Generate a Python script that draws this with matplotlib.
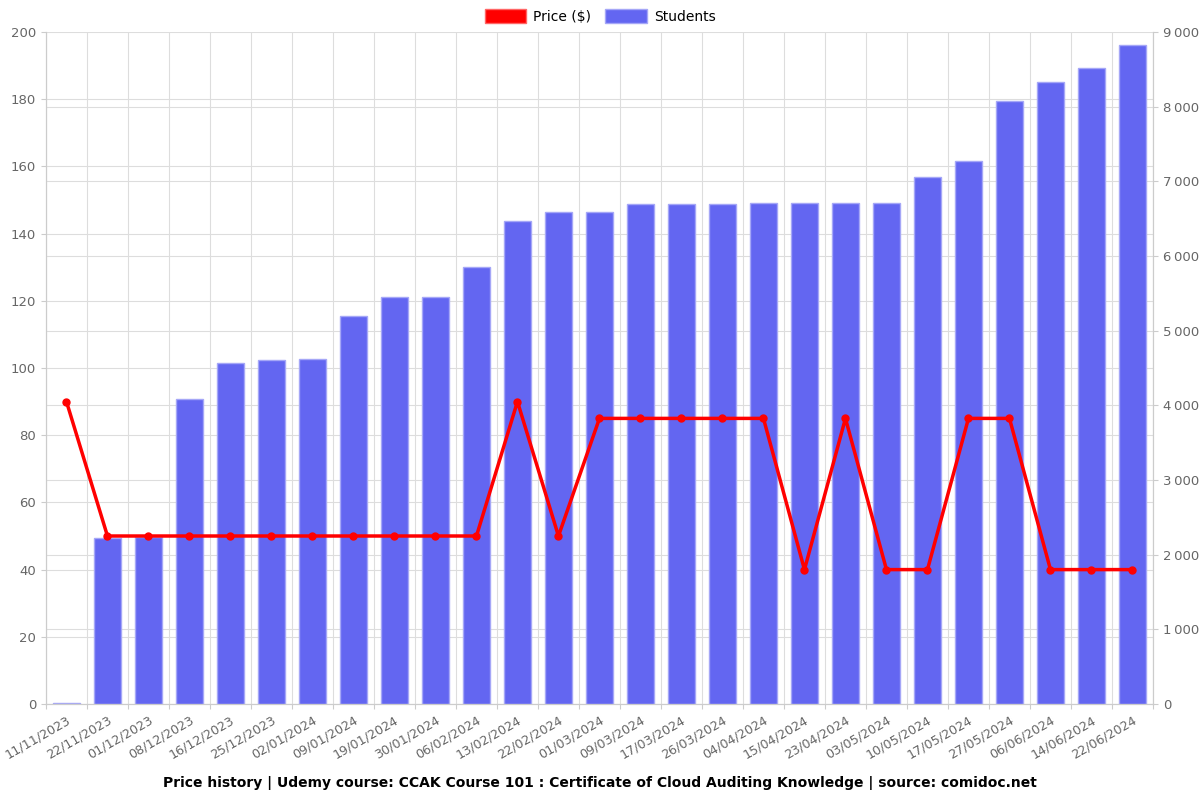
import matplotlib.pyplot as plt
from matplotlib.patches import Patch
from matplotlib.ticker import FuncFormatter, MultipleLocator

dates = ['11/11/2023', '22/11/2023', '01/12/2023', '08/12/2023', '16/12/2023',
         '25/12/2023', '02/01/2024', '09/01/2024', '19/01/2024', '30/01/2024',
         '06/02/2024', '13/02/2024', '22/02/2024', '01/03/2024', '09/03/2024',
         '17/03/2024', '26/03/2024', '04/04/2024', '15/04/2024', '23/04/2024',
         '03/05/2024', '10/05/2024', '17/05/2024', '27/05/2024', '06/06/2024',
         '14/06/2024', '22/06/2024']
price = [90, 50, 50, 50, 50, 50, 50, 50, 50, 50, 50, 90, 50, 85, 85, 85, 85, 85,
         40, 85, 40, 40, 85, 85, 40, 40, 40]
students = [15, 2225, 2236, 4085, 4567, 4607, 4620, 5196, 5451, 5451, 5852, 6468,
            6589, 6589, 6696, 6696, 6696, 6710, 6716, 6716, 6716, 7058, 7272,
            8075, 8330, 8517, 8826]

grey = '#666666'
gridc = '#dddddd'
x = list(range(len(dates)))
n = len(dates)

fig = plt.figure(figsize=(12, 8), dpi=100)
ax = fig.add_axes([0.0383, 0.12, 0.9225, 0.84])
ax2 = ax.twinx()

# bars on the right axis, behind the price line
ax2.bar(x, students, width=0.68, color='#6366f1', edgecolor='#a5a7f7', linewidth=1, zorder=2)
ax2.set_ylim(0, 9000)
ax2.yaxis.set_major_locator(MultipleLocator(1000))
ax2.yaxis.set_major_formatter(FuncFormatter(lambda v, p: f'{int(v):,}'.replace(',', '\u202f')))
# price grid lines (every 20 of 200) drawn on the bar axis so they stay behind the bars
ax2.yaxis.set_minor_locator(MultipleLocator(900))
ax2.tick_params(axis='y', which='minor', length=0)
ax2.grid(axis='y', which='both', color=gridc, linewidth=0.8, zorder=0)
ax2.set_axisbelow(True)
# vertical grid on category boundaries (twin x axis is hidden, so draw them here)
for b in range(n + 1):
    ax2.axvline(b - 0.5, color=gridc, linewidth=0.8, zorder=0)

ax.set_zorder(ax2.get_zorder() + 1)
ax.patch.set_visible(False)
ax.plot(x, price, color='#ff0000', linewidth=2.5, marker='o', markersize=5, zorder=5)
ax.set_ylim(0, 200)
ax.yaxis.set_major_locator(MultipleLocator(20))
ax.set_xlim(-0.5, n - 0.5)

# ticks on category boundaries, labels on bar centres
ax.set_xticks([i - 0.5 for i in range(n + 1)])
ax.set_xticklabels([])
ax.set_xticks(x, minor=True)
ax.set_xticklabels(dates, minor=True, rotation=30, ha='right', rotation_mode='anchor')
ax.tick_params(axis='x', which='minor', length=0, pad=7)

for a in (ax, ax2):
    for s in a.spines.values():
        s.set_color('#cccccc')
    a.tick_params(which='both', colors='#cccccc', labelcolor=grey, labelsize=9.5)
ax.tick_params(axis='x', which='minor', labelsize=9.2)
ax.spines['top'].set_visible(False)
ax2.spines['top'].set_visible(False)

handles = [Patch(facecolor='#ff0000', edgecolor='#ff6666'),
           Patch(facecolor='#6366f1', edgecolor='#a5a7f7')]
fig.legend(handles, ['Price ($)', 'Students'], loc='upper center', bbox_to_anchor=(0.5, 1.004),
           ncol=2, frameon=False, fontsize=10, handlelength=3, handleheight=1.1,
           columnspacing=1.0, handletextpad=0.5)

fig.text(0.5, 0.021, 'Price history | Udemy course: CCAK Course 101 : Certificate of Cloud Auditing Knowledge | source: comidoc.net',
         ha='center', va='center', fontsize=10, fontweight='bold')

fig.savefig('out.png')
